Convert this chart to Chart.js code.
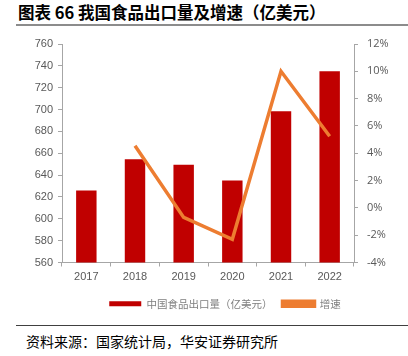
<!DOCTYPE html>
<html>
<head>
<meta charset="utf-8">
<script src="https://cdn.jsdelivr.net/npm/chart.js@4.4.1/dist/chart.umd.min.js"></script>
<style>
  html, body { margin:0; padding:0; background:#fff; width:408px; height:356px; overflow:hidden; }
  #title { position:absolute; left:18px; top:2px; font-family:"Noto Sans CJK SC","Liberation Sans",sans-serif; font-weight:700; font-size:16.5px; color:#000; white-space:nowrap; line-height:20px; }
  #rule1 { position:absolute; left:16px; top:24px; width:392px; height:2px; background:#8c8c8c; }
  #rule2 { position:absolute; left:16px; top:325px; width:392px; height:1px; background:#404040; }
  #source { position:absolute; left:26px; top:332px; font-family:"Noto Sans CJK SC",sans-serif; font-size:14px; color:#000; white-space:nowrap; line-height:18px; }
  #c { position:absolute; left:0; top:0; }
</style>
</head>
<body>
<div id="title">图表 66 我国食品出口量及增速（亿美元）</div>
<div id="rule1"></div>
<canvas id="c" width="408" height="319"></canvas>
<div id="rule2"></div>
<div id="source">资料来源：国家统计局，华安证券研究所</div>
<script>
const categories = ["2017", "2018", "2019", "2020", "2021", "2022"];
const exportValues = [626, 654.5, 649.5, 635, 698.5, 735];
const growthRates = [null, 4.55, -0.7, -2.3, 10.0, 5.25];
const barLabel = "中国食品出口量（亿美元）";
const lineLabel = "增速";

const tickFont = { family: "'Liberation Sans', Arial, sans-serif", size: 11 };
const axisGray = "#A6A6A6";

const shiftLegend = {
  id: "shiftLegend",
  afterLayout(chart) {
    if (chart.legend) { chart.legend.left = 42; }
  }
};

new Chart(document.getElementById("c"), {
  type: "bar",
  plugins: [shiftLegend],
  data: {
    labels: categories,
    datasets: [
      {
        type: "line",
        label: lineLabel,
        data: growthRates,
        yAxisID: "y1",
        borderColor: "#ED7D31",
        backgroundColor: "#ED7D31",
        borderWidth: 3.5,
        pointRadius: 0,
        tension: 0,
        order: 0
      },
      {
        type: "bar",
        label: barLabel,
        data: exportValues,
        yAxisID: "y",
        backgroundColor: "#C00000",
        borderWidth: 0,
        barPercentage: 0.42,
        categoryPercentage: 1.0,
        order: 1
      }
    ]
  },
  options: {
    responsive: false,
    animation: false,
    devicePixelRatio: 1,
    layout: { padding: { top: 44, left: 0, right: 0, bottom: 0 } },
    plugins: {
      tooltip: { enabled: false },
      legend: {
        position: "bottom",
        reverse: true,
        labels: {
          boxWidth: 32,
          boxHeight: 5,
          padding: 10,
          color: "#7f7f7f",
          font: { family: "'Noto Sans CJK SC', sans-serif", size: 10.5 }
        }
      }
    },
    scales: {
      x: {
        grid: { drawOnChartArea: false, drawTicks: true, tickLength: 4, color: axisGray, offset: true },
        border: { color: axisGray, width: 1 },
        ticks: { color: "#595959", font: tickFont, padding: 4 },
        afterFit: (s) => { s.height = 26; }
      },
      y: {
        position: "left",
        min: 560, max: 760,
        grid: { drawOnChartArea: false, drawTicks: true, tickLength: 4, color: axisGray },
        border: { color: axisGray, width: 1 },
        ticks: { stepSize: 20, color: "#595959", font: tickFont, padding: 5 },
        afterFit: (s) => { s.width = 62; }
      },
      y1: {
        position: "right",
        min: -4, max: 12,
        grid: { drawOnChartArea: false, drawTicks: true, tickLength: 4, color: axisGray },
        border: { color: axisGray, width: 1 },
        ticks: { stepSize: 2, color: "#595959", font: { family: "'Open Sans', sans-serif", size: 11 }, padding: 9, callback: (v) => v + "%" },
        afterFit: (s) => { s.width = 54; }
      }
    }
  }
});
</script>
</body>
</html>
